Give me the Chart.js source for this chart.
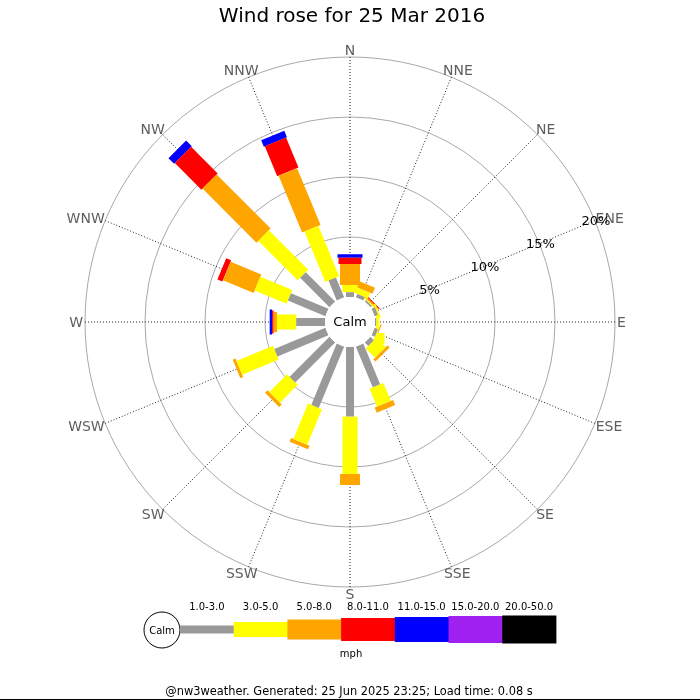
<!DOCTYPE html>
<html><head><meta charset="utf-8">
<script src="https://cdn.jsdelivr.net/npm/chart.js@4.4.1/dist/chart.umd.min.js"></script>
<style>html,body{margin:0;padding:0;background:#fff;}#wrap{width:700px;height:700px;position:relative;}</style>
</head><body><div id="wrap"><canvas id="c" width="700" height="700"></canvas></div>
<script>
// ---- data ----
const directions = ['N','NNE','NE','ENE','E','ESE','SE','SSE','S','SSW','SW','WSW','W','WNW','NW','NNW'];
const speedBands = ['1.0-3.0','3.0-5.0','5.0-8.0','8.0-11.0','11.0-15.0','15.0-20.0','20.0-50.0'];
// percentage of time per direction, per speed band (mph)
const band1to3   = [0.40,0.30,0.15,0.30,0.10,0.30,0.40,3.67,5.80,5.53,4.70,4.60,2.40,3.38,3.46,1.79];
const band3to5   = [0.60,0.50,0.10,0.15,0.25,0.05,1.10,1.62,4.78,3.20,2.10,3.30,1.60,2.88,4.64,4.54];
const band5to8   = [1.75,0.55,0.12,0.00,0.00,0.10,0.25,0.46,0.92,0.33,0.30,0.25,0.28,2.77,6.37,5.12];
const band8to11  = [0.52,0.00,0.10,0.00,0.00,0.00,0.00,0.00,0.00,0.00,0.00,0.00,0.13,0.45,3.13,2.71];
const band11to15 = [0.29,0.00,0.00,0.00,0.00,0.00,0.00,0.00,0.00,0.00,0.00,0.00,0.20,0.00,0.67,0.58];
const band15to20 = [0,0,0,0,0,0,0,0,0,0,0,0,0,0,0,0];
const band20to50 = [0,0,0,0,0,0,0,0,0,0,0,0,0,0,0,0];
const ringTicks  = [5,10,15,20];
const tickLabels = ['5%','10%','15%','20%'];
const titleText  = 'Wind rose for 25 Mar 2016';
const calmLabel  = 'Calm';
const unitLabel  = 'mph';
const footerText = '@nw3weather. Generated: 25 Jun 2025 23:25; Load time: 0.08 s';

// ---- styles ----
const bandColors = ['#999999','#ffff00','#ffa500','#ff0000','#0000ff','#a020f0','#000000'];
const bandWidths = [8,15,20,23,25,27,28];
const FONT = '"DejaVu Sans", sans-serif';
const PX_PER_UNIT = 12;           // 600px plot / 50 units
const CALM_R = 25;                // calm circle radius (px)
const CALM = CALM_R / PX_PER_UNIT; // offset in % units

const bands = [band1to3, band3to5, band5to8, band8to11, band11to15, band15to20, band20to50];
const cum = new Array(directions.length).fill(0);
const datasets = bands.map((vals, b) => {
  const pts = [];
  vals.forEach((v, i) => {
    const a = i * 2 * Math.PI / directions.length;
    if (v > 0) {
      const r1 = CALM + cum[i], r2 = CALM + cum[i] + v;
      pts.push({x: r1 * Math.sin(a), y: r1 * Math.cos(a)});
      pts.push({x: r2 * Math.sin(a), y: r2 * Math.cos(a)});
      pts.push({x: NaN, y: NaN});
    }
    cum[i] += v;
  });
  return {label: speedBands[b], data: pts, showLine: true, spanGaps: false, tension: 0,
    borderColor: bandColors[b], backgroundColor: bandColors[b], borderWidth: bandWidths[b],
    borderCapStyle: 'butt', pointRadius: 0, pointHoverRadius: 0, fill: false};
});

function geom(chart) {
  const xs = chart.scales.x, ys = chart.scales.y;
  const cx = xs.getPixelForValue(0), cy = ys.getPixelForValue(0);
  const rpx = v => xs.getPixelForValue(v) - cx;
  return {cx, cy, rpx};
}

const roseGrid = {
  id: 'roseGrid',
  beforeDatasetsDraw(chart) {
    const ctx = chart.ctx; const {cx, cy, rpx} = geom(chart);
    ctx.save();
    ctx.strokeStyle = '#a8a8a8'; ctx.lineWidth = 1;
    ringTicks.forEach(t => { ctx.beginPath(); ctx.arc(cx, cy, rpx(CALM + t), 0, 2 * Math.PI); ctx.stroke(); });
    const R = rpx(CALM + ringTicks[ringTicks.length - 1]);
    ctx.strokeStyle = '#222222'; ctx.setLineDash([1, 2]);
    directions.forEach((d, i) => {
      const a = i * 2 * Math.PI / directions.length;
      ctx.beginPath(); ctx.moveTo(cx, cy);
      ctx.lineTo(cx + R * Math.sin(a), cy - R * Math.cos(a)); ctx.stroke();
    });
    ctx.restore();
  },
  afterDatasetsDraw(chart) {
    const ctx = chart.ctx; const {cx, cy, rpx} = geom(chart);
    ctx.save();
    // calm circle
    ctx.fillStyle = '#ffffff';
    ctx.beginPath(); ctx.arc(cx, cy, CALM_R, 0, 2 * Math.PI); ctx.fill();
    ctx.fillStyle = '#000'; ctx.font = '13px ' + FONT; ctx.textAlign = 'center'; ctx.textBaseline = 'middle';
    ctx.fillText(calmLabel, cx, cy + 1);
    // direction labels (text box touching the ray end)
    const R = rpx(CALM + ringTicks[ringTicks.length - 1]) + 2;
    ctx.fillStyle = '#5e5e5e'; ctx.font = '14px ' + FONT;
    directions.forEach((d, i) => {
      const a = i * 2 * Math.PI / directions.length;
      const ux = Math.sin(a), uy = -Math.cos(a);
      const hw = ctx.measureText(d).width / 2, hh = 5;
      ctx.fillText(d, cx + R * ux + ux * hw, cy + R * uy + uy * hh + 1);
    });
    // ring labels along ENE
    ctx.fillStyle = '#000'; ctx.font = '13px ' + FONT;
    const la = 3 * 2 * Math.PI / directions.length;
    ringTicks.forEach((t, k) => {
      const r = rpx(CALM + t);
      ctx.fillText(tickLabels[k], cx + r * Math.sin(la) + 1, cy - r * Math.cos(la) + 1);
    });
    ctx.restore();
  },
  afterDraw(chart) {
    const ctx = chart.ctx; const W = chart.width;
    ctx.save();
    ctx.textAlign = 'center'; ctx.textBaseline = 'middle';
    // title
    ctx.fillStyle = '#000'; ctx.font = '20px ' + FONT;
    ctx.fillText(titleText, W / 2 + 2, 17);
    // legend
    const lx0 = 180, segW = 53.7, ly = 629.5;
    ctx.fillStyle = '#fff'; ctx.strokeStyle = '#000'; ctx.lineWidth = 1;
    ctx.beginPath(); ctx.arc(162, 630, 18, 0, 2 * Math.PI); ctx.fill(); ctx.stroke();
    ctx.fillStyle = '#000'; ctx.font = '10px ' + FONT;
    ctx.fillText(calmLabel, 162, 631);
    speedBands.forEach((s, b) => {
      const x = lx0 + b * segW, h = bandWidths[b];
      ctx.fillStyle = bandColors[b];
      ctx.fillRect(x, ly - h / 2, segW + 0.5, h);
      ctx.fillStyle = '#000';
      ctx.fillText(s, x + segW / 2, 607.5);
    });
    ctx.fillText(unitLabel, 351, 654);
    ctx.font = '11.4px ' + FONT;
    ctx.fillText(footerText, 349, 692);
    ctx.fillRect(0, 699, W, 1);
    ctx.restore();
  }
};

new Chart(document.getElementById('c'), {
  type: 'scatter',
  data: {datasets},
  options: {
    responsive: false, animation: false, devicePixelRatio: 1, events: [],
    layout: {padding: {left: 50, right: 50, top: 22, bottom: 78}},
    scales: {
      x: {type: 'linear', min: -25, max: 25, display: false},
      y: {type: 'linear', min: -25, max: 25, display: false}
    },
    plugins: {legend: {display: false}, tooltip: {enabled: false}, title: {display: false}}
  },
  plugins: [roseGrid]
});
</script></body></html>
